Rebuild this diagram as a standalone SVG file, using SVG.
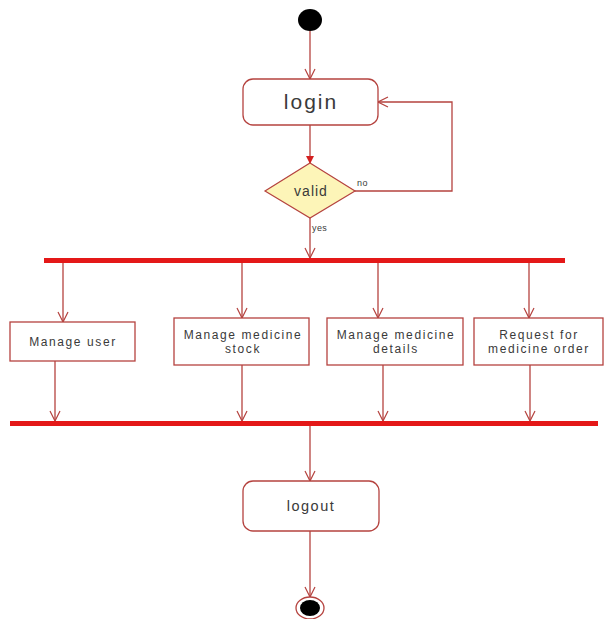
<svg xmlns="http://www.w3.org/2000/svg" width="608" height="619" viewBox="0 0 608 619">
<defs>
<marker id="open" viewBox="0 0 12 12" refX="11" refY="6" markerWidth="12" markerHeight="12" markerUnits="userSpaceOnUse" orient="auto">
<path d="M1,1 L11,6 L1,11" fill="none" stroke="#b5433f" stroke-width="1.2"/>
</marker>
<marker id="filled" viewBox="0 0 8 8" refX="7" refY="4" markerWidth="8" markerHeight="8" markerUnits="userSpaceOnUse" orient="auto">
<path d="M0,0 L8,4 L0,8 Z" fill="#d42020"/>
</marker>
</defs>
<style>
.edge{fill:none;stroke:#b5433f;stroke-width:1.3}
.box{fill:#ffffff;stroke:#b5433f;stroke-width:1.3}
.bar{fill:#e41818}
.t{font-family:"Liberation Sans",Arial,sans-serif;fill:#3a3a3a;text-anchor:middle}
.a{font-size:12px;letter-spacing:1.6px}
.lbl{font-family:"Liberation Sans",Arial,sans-serif;fill:#3a3a3a;font-size:9px;letter-spacing:0.4px}
</style>
<rect width="608" height="619" fill="#ffffff"/>
<g id="connectors">
<line class="edge" x1="310" y1="31" x2="310" y2="79" marker-end="url(#open)"/>
<line class="edge" x1="310" y1="125" x2="310" y2="163" marker-end="url(#filled)"/>
<polyline class="edge" points="355,191 452,191 452,102 378,102" marker-end="url(#open)"/>
<line class="edge" x1="310" y1="218" x2="310" y2="258" marker-end="url(#open)"/>
<line class="edge" x1="63" y1="262" x2="63" y2="322" marker-end="url(#open)"/>
<line class="edge" x1="242" y1="262" x2="242" y2="318" marker-end="url(#open)"/>
<line class="edge" x1="378" y1="262" x2="378" y2="318" marker-end="url(#open)"/>
<line class="edge" x1="529" y1="262" x2="529" y2="318" marker-end="url(#open)"/>
<line class="edge" x1="55" y1="361" x2="55" y2="421" marker-end="url(#open)"/>
<line class="edge" x1="242" y1="365" x2="242" y2="421" marker-end="url(#open)"/>
<line class="edge" x1="383" y1="365" x2="383" y2="421" marker-end="url(#open)"/>
<line class="edge" x1="530" y1="365" x2="530" y2="421" marker-end="url(#open)"/>
<line class="edge" x1="310" y1="425" x2="310" y2="481" marker-end="url(#open)"/>
<line class="edge" x1="310" y1="531" x2="310" y2="597" marker-end="url(#open)"/>
<text class="lbl" x="357" y="186">no</text>
<text class="lbl" x="312" y="231">yes</text>
</g>
<g id="start"><ellipse cx="310" cy="20" rx="12" ry="11" fill="#000000"/></g>
<g id="login">
<rect class="box" x="243" y="79" width="135" height="46" rx="10"/>
<text class="t" x="311" y="109" font-size="21" letter-spacing="2">login</text>
</g>
<g id="valid">
<polygon points="310,163 355,191 310,218 265,191" fill="#fdf5b8" stroke="#b5433f" stroke-width="1.2"/>
<text class="t" x="311" y="196" font-size="14" letter-spacing="1">valid</text>
</g>
<g id="fork"><rect class="bar" x="44" y="258" width="521" height="5"/></g>
<g id="manage-user">
<rect class="box" x="10" y="322" width="125" height="39"/>
<text class="t a" x="73" y="346">Manage user</text>
</g>
<g id="manage-stock">
<rect class="box" x="174" y="318" width="135" height="47"/>
<text class="t a" x="243" y="339">Manage medicine</text>
<text class="t a" x="243" y="353">stock</text>
</g>
<g id="manage-details">
<rect class="box" x="327" y="318" width="136" height="47"/>
<text class="t a" x="396" y="339">Manage medicine</text>
<text class="t a" x="396" y="353">details</text>
</g>
<g id="request-order">
<rect class="box" x="474" y="318" width="129" height="47"/>
<text class="t a" x="539" y="339">Request for</text>
<text class="t a" x="539" y="353">medicine order</text>
</g>
<g id="join"><rect class="bar" x="10" y="421" width="588" height="5"/></g>
<g id="logout">
<rect class="box" x="243" y="481" width="136" height="50" rx="10"/>
<text class="t" x="311" y="511" font-size="14.5" letter-spacing="1.5">logout</text>
</g>
<g id="end">
<ellipse cx="310" cy="608" rx="14" ry="11" fill="#ffffff" stroke="#b5433f" stroke-width="1.3"/>
<ellipse cx="310" cy="608" rx="10" ry="8" fill="#000000"/>
</g>
</svg>
